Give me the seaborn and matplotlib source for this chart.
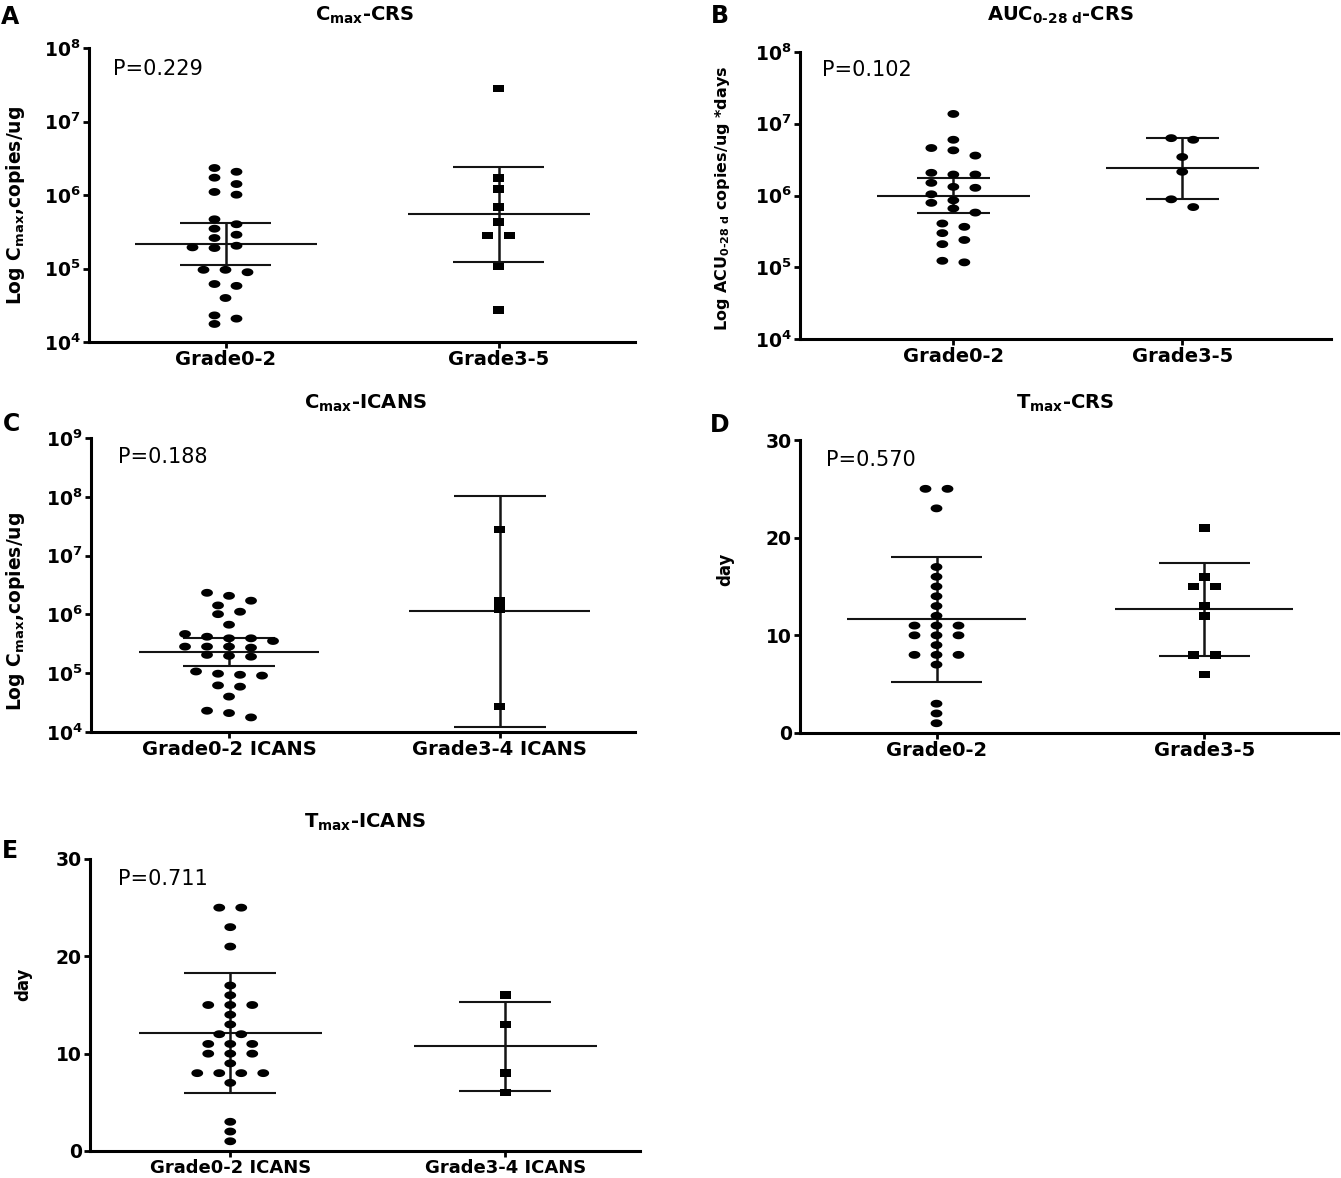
import numpy as np
import seaborn as sns
import matplotlib.pyplot as plt
from matplotlib.path import Path
from matplotlib.ticker import FixedLocator, FuncFormatter, NullLocator

# ---- values ----
crs_groups = ["Grade0-2", "Grade3-5"]
icans_groups = ["Grade0-2 ICANS", "Grade3-4 ICANS"]

# A: Cmax by CRS grade (copies/ug)
cmax_crs_g02 = [2.33e6, 2.07e6, 1.72e6, 1.41e6, 1.1e6, 1.01e6, 4.67e5, 4.0e5, 3.48e5,
                2.88e5, 2.6e5, 2.04e5, 1.94e5, 1.9e5, 9.6e4, 9.6e4, 8.9e4, 6.15e4,
                5.8e4, 3.97e4, 2.3e4, 2.08e4, 1.76e4]
cmax_crs_g35 = [2.8e7, 1.7e6, 1.21e6, 6.87e5, 4.25e5, 2.8e5, 2.8e5, 1.07e5, 2.75e4]
cmax_crs_mid = [2.15e5, 5.5e5]
cmax_crs_lo = [1.13e5, 1.21e5]
cmax_crs_hi = [4.16e5, 2.4e6]

# B: AUC 0-28 d by CRS grade
auc_crs_g02 = [1.37e7, 5.98e6, 4.59e6, 4.26e6, 3.6e6, 2.07e6, 1.96e6, 1.96e6, 1.5e6,
               1.32e6, 1.28e6, 1.04e6, 8.57e5, 7.9e5, 6.6e5, 5.78e5, 4.07e5, 3.66e5,
               2.99e5, 2.4e5, 2.1e5, 1.23e5, 1.17e5]
auc_crs_g35 = [6.3e6, 5.98e6, 3.44e6, 2.14e6, 8.85e5, 6.9e5]
auc_crs_mid = [1.0e6, 2.38e6]
auc_crs_lo = [5.78e5, 8.85e5]
auc_crs_hi = [1.73e6, 6.3e6]

# C: Cmax by ICANS grade
cmax_icans_g02 = [2.33e6, 2.07e6, 1.71e6, 1.42e6, 1.11e6, 1.01e6, 6.68e5, 4.64e5, 4.17e5,
                  3.92e5, 3.92e5, 3.53e5, 2.83e5, 2.83e5, 2.83e5, 2.72e5, 2.05e5, 1.97e5,
                  1.91e5, 1.07e5, 9.8e4, 9.4e4, 9.1e4, 6.2e4, 5.9e4, 4.0e4, 2.3e4,
                  2.1e4, 1.77e4]
cmax_icans_g34 = [2.79e7, 1.68e6, 1.22e6, 2.72e4]
cmax_icans_mid = [2.33e5, 1.14e6]
cmax_icans_lo = [1.35e5, 1.22e4]
cmax_icans_hi = [4.0e5, 1.03e8]

# D: Tmax by CRS grade (day)
tmax_crs_g02 = [25, 25, 23, 17, 16, 15, 14, 13, 12, 11, 11, 11, 10, 10, 10, 9, 8, 8, 8, 7, 3, 2, 1]
tmax_crs_g35 = [21, 16, 15, 15, 13, 12, 8, 8, 6]
tmax_crs_mid = [11.7, 12.67]
tmax_crs_lo = [5.22, 7.91]
tmax_crs_hi = [18.07, 17.39]

# E: Tmax by ICANS grade (day)
tmax_icans_g02 = [25, 25, 23, 21, 17, 16, 15, 15, 15, 14, 13, 12, 12, 11, 11, 11,
                  10, 10, 10, 9, 8, 8, 8, 8, 7, 3, 2, 1]
tmax_icans_g34 = [16, 13, 8, 6]
tmax_icans_mid = [12.14, 10.75]
tmax_icans_lo = [5.99, 6.17]
tmax_icans_hi = [18.3, 15.32]

p_texts = ["P=0.229", "P=0.102", "P=0.188", "P=0.570", "P=0.711"]

# ---- style ----
W, H = 1341, 1178
COL_PX, ROW_PX = 22, 8
LINE = "#141414"

t = np.linspace(0, 2 * np.pi, 49)
MARKERS = {
    "dot": Path(np.column_stack([1.5 * np.cos(t), np.sin(t)]), closed=True),
    "box": Path([(-1.45, -1), (1.45, -1), (1.45, 1), (-1.45, 1), (-1.45, -1)], closed=True),
}
SIZES = {"dot": 72, "box": 64}

sns.set_style("ticks")
plt.rcParams["font.family"] = ["DejaVu Sans"]
plt.rcParams["font.weight"] = "bold"
plt.rcParams["axes.linewidth"] = 2.2
for key in ["text.color", "axes.labelcolor", "axes.edgecolor", "xtick.color", "ytick.color"]:
    plt.rcParams[key] = "black"

fig = plt.figure(figsize=(W / 100, H / 100), dpi=100)


def fpos(x, y):
    return x / W, 1 - y / H


def column_offsets(vals, log, sp, h):
    # group close values into rows, spread each row symmetrically (GraphPad style)
    y = np.log10(vals) if log else np.asarray(vals, float)
    order = np.argsort(-y, kind="stable")
    rows, cur = [], [order[0]]
    for i in order[1:]:
        if y[cur[0]] - y[i] >= h:
            rows.append(cur)
            cur = [i]
        else:
            cur.append(i)
    rows.append(cur)
    off = np.zeros(len(y))
    placed = []
    for row in rows:
        base = (np.arange(len(row)) - (len(row) - 1) / 2) * sp
        for shift in [0, 0.5, -0.5, 1, -1, 1.5, -1.5, 2, -2]:
            cand = base + shift * sp
            clash = any(abs(cx - px) < 0.9 * sp and abs(y[i] - py) < h
                        for i, cx in zip(row, cand) for px, py in placed)
            if not clash:
                break
        for i, cx in zip(row, cand):
            off[i] = cx
            placed.append((cx, y[i]))
    return off


def draw(box, xlim, ylim, log, groups, vals, marks, mid, lo, hi, cap,
         ylabel, ylab_size, ylab_xy, p_text, p_xy, xlab_size=14):
    l, tp, r, b = box
    ax = fig.add_axes([l / W, 1 - b / H, (r - l) / W, (b - tp) / H])
    if log:
        ax.set_yscale("log")
    sp = COL_PX * (xlim[1] - xlim[0]) / (r - l)
    span = np.log10(ylim[1] / ylim[0]) if log else ylim[1] - ylim[0]
    h = ROW_PX * span / (b - tp)
    for k, (v, mk) in enumerate(zip(vals, marks)):
        off = column_offsets(v, log, sp, h)
        sns.scatterplot(x=k + off, y=v, marker=MARKERS[mk], s=SIZES[mk], color="black",
                        edgecolor="none", linewidth=0, legend=False, ax=ax, zorder=3)
        ax.hlines(mid[k], k - 1 / 3, k + 1 / 3, color=LINE, lw=1.5, zorder=2)
        ax.hlines([lo[k], hi[k]], k - cap, k + cap, color=LINE, lw=1.5, zorder=2)
        ax.vlines(k, lo[k], hi[k], color=LINE, lw=1.8, zorder=2)
    ax.set_xlim(xlim)
    ax.set_ylim(ylim)
    ax.set_xticks([0, 1])
    ax.set_xticklabels(groups, fontsize=xlab_size, fontweight="bold")
    if log:
        lo_e, hi_e = int(np.log10(ylim[0])), int(np.log10(ylim[1]))
        ax.yaxis.set_major_locator(FixedLocator(10.0 ** np.arange(lo_e, hi_e + 1)))
        ax.yaxis.set_major_formatter(FuncFormatter(lambda v, _: r"$\mathbf{10^{%d}}$" % round(np.log10(v))))
        ax.yaxis.set_minor_locator(NullLocator())
    else:
        ax.set_yticks([0, 10, 20, 30])
    ax.tick_params(axis="both", direction="out", length=4, width=2, color="black", pad=2)
    ax.tick_params(axis="y", labelsize=13.5)
    for lab in ax.get_yticklabels():
        lab.set_fontweight("bold")
    sns.despine(ax=ax)
    ax.set_xlabel("")
    ax.set_ylabel(ylabel, fontsize=ylab_size, fontweight="bold")
    ax.yaxis.label.set_verticalalignment("center")
    ax.yaxis.set_label_coords(*ylab_xy)
    ax.text(*p_xy, p_text, transform=ax.transAxes, fontsize=15, fontweight="normal",
            ha="left", va="center")
    return ax


cmax_label = r"Log C$_{\mathbf{max}}$,copies/ug"
auc_label = "Log ACU$_{\\mathbf{0\u201028\\ d}}$ copies/ug *days"

draw((89, 48, 635, 342), (-0.5, 1.5), (1e4, 1e8), True, crs_groups,
     [cmax_crs_g02, cmax_crs_g35], ["dot", "box"], cmax_crs_mid, cmax_crs_lo, cmax_crs_hi, 0.167,
     cmax_label, 13.5, (-0.134, 0.466), p_texts[0], (0.044, 0.929))
draw((800, 52, 1331, 339), (-0.67, 1.65), (1e4, 1e8), True, crs_groups,
     [auc_crs_g02, auc_crs_g35], ["dot", "dot"], auc_crs_mid, auc_crs_lo, auc_crs_hi, 0.16,
     auc_label, 11.5, (-0.146, 0.49), p_texts[1], (0.041, 0.937))
draw((91, 438, 635, 732), (-0.51, 1.5), (1e4, 1e9), True, icans_groups,
     [cmax_icans_g02, cmax_icans_g34], ["dot", "box"], cmax_icans_mid, cmax_icans_lo, cmax_icans_hi, 0.17,
     cmax_label, 13.5, (-0.138, 0.41), p_texts[2], (0.05, 0.935))
draw((800, 440, 1338, 733), (-0.51, 1.5), (0, 30), False, crs_groups,
     [tmax_crs_g02, tmax_crs_g35], ["dot", "box"], tmax_crs_mid, tmax_crs_lo, tmax_crs_hi, 0.17,
     "day", 12, (-0.139, 0.56), p_texts[3], (0.048, 0.932))
draw((90, 859, 640, 1151), (-0.51, 1.49), (0, 30), False, icans_groups,
     [tmax_icans_g02, tmax_icans_g34], ["dot", "box"], tmax_icans_mid, tmax_icans_lo, tmax_icans_hi, 0.167,
     "day", 12, (-0.122, 0.57), p_texts[4], (0.051, 0.932), xlab_size=13)

# panel titles and letters
titles = [(r"C$_{\mathbf{max}}$-CRS", 365, 15), ("AUC$_{\\mathbf{0\u201028\\ d}}$-CRS", 1060, 15),
          (r"C$_{\mathbf{max}}$-ICANS", 365, 403), (r"T$_{\mathbf{max}}$-CRS", 1065, 403),
          (r"T$_{\mathbf{max}}$-ICANS", 365, 822)]
for txt, x, y in titles:
    fig.text(*fpos(x, y), txt, fontsize=14, fontweight="bold", ha="center", va="center")
for letter, x, y in [("A", 10, 17), ("B", 720, 16), ("C", 11, 424), ("D", 720, 425), ("E", 10, 851)]:
    fig.text(*fpos(x, y), letter, fontsize=17, fontweight="bold", ha="center", va="center")

fig.savefig("out.png", dpi=100)
